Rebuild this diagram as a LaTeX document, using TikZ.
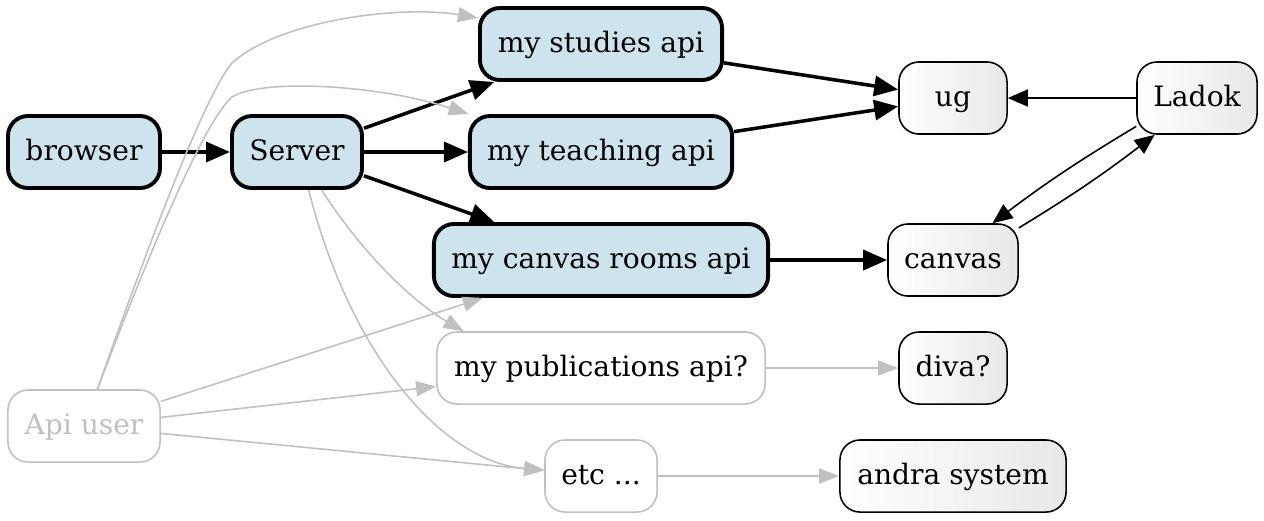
\documentclass[tikz,border=0pt]{standalone}
\usepackage{fontspec}
\setmainfont{DejaVu Serif}
\usetikzlibrary{arrows.meta}
\definecolor{apiblue}{RGB}{205,228,238}
\definecolor{edgegray}{RGB}{192,192,192}
\begin{document}
\begin{tikzpicture}[x=0.01cm,y=-0.01cm,
    font=\fontsize{8}{9.6}\selectfont,
    box/.style={rectangle,rounded corners=0.2cm,minimum height=0.72cm,inner sep=0pt,
        text height=6.5pt,text depth=1.4pt},
    api/.style={box,draw,line width=1.1pt,fill=apiblue},
    ext/.style={box,draw,line width=0.45pt,left color=white,right color=black!9},
    todo/.style={box,draw=edgegray,line width=0.45pt,fill=white},
    flow/.style={-{Triangle[length=0.24cm,width=0.2cm]},line width=1pt},
    link/.style={-{Triangle[length=0.2cm,width=0.17cm]},line width=0.45pt},
    dim/.style={-{Triangle[length=0.2cm,width=0.15cm]},line width=0.45pt,draw=edgegray,edgegray}]
    \useasboundingbox (0,0) rectangle (1264,520);
    \node[api,minimum width=1.52cm] (browser) at (84,152) {browser};
    \node[api,minimum width=1.30cm] (server) at (297,152) {Server};
    \node[api,minimum width=2.42cm] (studies) at (601,44) {my studies api};
    \node[api,minimum width=2.62cm] (teaching) at (601,152) {my teaching api};
    \node[api,minimum width=3.34cm] (canvasapi) at (601,260) {my canvas rooms api};
    \node[todo,minimum width=3.28cm] (pubs) at (601,368) {my publications api?};
    \node[todo,minimum width=1.12cm] (etc) at (601,476) {etc ...};
    \node[todo,minimum width=1.52cm,text=edgegray] (apiuser) at (84,426) {Api user};
    \node[ext,minimum width=1.08cm] (ug) at (953,98) {ug};
    \node[ext,minimum width=1.20cm] (ladok) at (1197,98) {Ladok};
    \node[ext,minimum width=1.30cm] (canvas) at (953,260) {canvas};
    \node[ext,minimum width=1.08cm] (diva) at (953,368) {diva?};
    \node[ext,minimum width=2.26cm] (andra) at (953,476) {andra system};

    \path[flow]
    (browser) edge (server)
    (server) edge (studies)
             edge (teaching)
             edge (canvasapi)
    (studies) edge (ug)
    (teaching) edge (ug)
    (canvasapi) edge (canvas);
    \path[link]
    (ladok) edge (ug)
    (ladok.205) edge[bend right=3] (canvas.43)
    (canvas.26) edge[bend right=3] (ladok.221);
    \path[dim]
    (apiuser) edge (canvasapi)
              edge (pubs)
              edge (etc)
    (pubs) edge (diva)
    (etc) edge (andra);
    \draw[dim] (apiuser.70) .. controls (150,240) and (205,95) .. (232,63)
        .. controls (280,20) and (400,5) .. (studies.168);
    \draw[dim] (apiuser.70) .. controls (150,250) and (205,120) .. (232,97)
        .. controls (262,78) and (380,85) .. (teaching.164);
    \draw[dim] (server.-57) .. controls (360,250) and (410,300) .. (pubs.165);
    \draw[dim] (server.-73) .. controls (352,360) and (445,462) .. (etc.174);
\end{tikzpicture}
\end{document}
